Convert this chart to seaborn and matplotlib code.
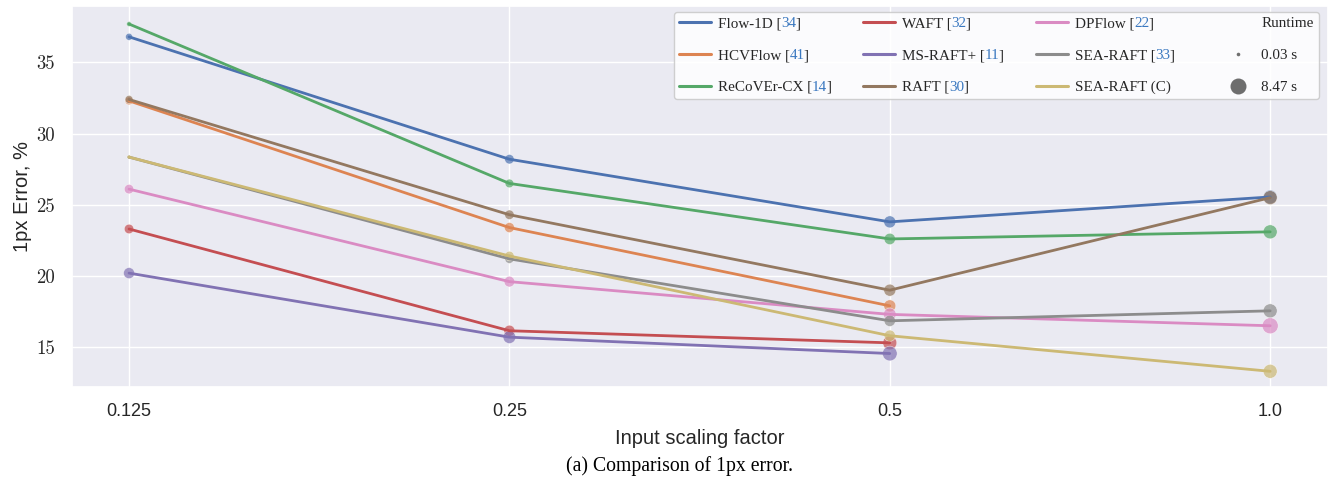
import numpy as np
import pandas as pd
import matplotlib
matplotlib.use("Agg")
import matplotlib.pyplot as plt
from matplotlib.colors import LogNorm
from matplotlib.lines import Line2D
import seaborn as sns

scales = [0.125, 0.25, 0.5, 1.0]
scale_labels = ["0.125", "0.25", "0.5", "1.0"]

methods = ["Flow-1D", "HCVFlow", "ReCoVEr-CX", "WAFT", "MS-RAFT+", "RAFT",
           "DPFlow", "SEA-RAFT", "SEA-RAFT (C)"]
cites = ["34", "41", "14", "32", "11", "30", "22", "33", None]

# 1px error (%) per input scale
flow1d = [36.8, 28.2, 23.8, 25.55]
hcvflow = [32.3, 23.4, 17.9, np.nan]
recover = [37.7, 26.5, 22.6, 23.1]
waft = [23.3, 16.15, 15.3, np.nan]
msraft = [20.2, 15.7, 14.55, np.nan]
raft = [32.4, 24.3, 19.0, 25.5]
dpflow = [26.1, 19.6, 17.3, 16.5]
searaft = [28.35, 21.2, 16.85, 17.55]
searaft_c = [28.35, 21.4, 15.8, 13.3]

# runtime (s)
rt_flow1d = [0.066, 0.17, 0.61, 2.0]
rt_hcvflow = [0.093, 0.22, 0.61, np.nan]
rt_recover = [0.037, 0.12, 0.42, 2.0]
rt_waft = [0.17, 0.36, 2.0, np.nan]
rt_msraft = [0.36, 0.91, 3.3, np.nan]
rt_raft = [0.093, 0.17, 0.61, 2.0]
rt_dpflow = [0.17, 0.30, 0.91, 8.47]
rt_searaft = [0.03, 0.14, 0.42, 2.0]
rt_searaft_c = [0.03, 0.17, 0.42, 2.0]

errors = [flow1d, hcvflow, recover, waft, msraft, raft, dpflow, searaft, searaft_c]
runtimes = [rt_flow1d, rt_hcvflow, rt_recover, rt_waft, rt_msraft, rt_raft,
            rt_dpflow, rt_searaft, rt_searaft_c]

rows = []
for m, err, rt in zip(methods, errors, runtimes):
    for s, e, r in zip(scales, err, rt):
        rows.append({"method": m, "scale": s, "error": e, "runtime": r})
df = pd.DataFrame(rows).dropna()

sns.set_theme(style="darkgrid")
colors = sns.color_palette("deep", 9)
palette = dict(zip(methods, colors))

fig = plt.figure(figsize=(13.28, 4.83), dpi=100)
ax = fig.add_axes([0.0542, 0.1988, 0.9458, 0.7898])

sns.scatterplot(data=df, x="scale", y="error", hue="method", hue_order=methods,
                palette=palette, size="runtime", sizes=(8, 133),
                size_norm=LogNorm(0.03, 8.47), alpha=0.7, edgecolor="white",
                linewidth=0.4, legend=False, ax=ax, zorder=2)
sns.lineplot(data=df, x="scale", y="error", hue="method", hue_order=methods,
             palette=palette, linewidth=2, legend=False, ax=ax, zorder=3)

ax.set_xscale("log", base=2)
ax.set_xticks(scales)
ax.set_xticklabels(scale_labels, family="Liberation Sans", fontsize=13)
ax.xaxis.set_minor_locator(matplotlib.ticker.NullLocator())
ax.set_xlim(2 ** -3.15, 2 ** 0.152)
ax.set_ylim(12.2, 39.0)
ax.set_yticks([15, 20, 25, 30, 35])
ax.set_yticklabels(["15", "20", "25", "30", "35"], family="cmr10", fontsize=13.5)
ax.tick_params(axis="y", pad=6.4)
ax.tick_params(axis="x", pad=5.7)
ax.set_xlabel("Input scaling factor", family="Liberation Sans", fontsize=14.5, labelpad=6)
ax.set_ylabel("1px Error, %", family="Liberation Sans", fontsize=14.5, labelpad=3)

handles = [Line2D([], [], color=palette[m], lw=2.2) for m in methods]
labels = [m + " [" if c else m for m, c in zip(methods, cites)]
handles.append(Line2D([], [], linestyle="none"))
labels.append("Runtime")
for r, ms in [(0.03, 2.6), (8.47, 11.5)]:
    handles.append(Line2D([], [], marker="o", linestyle="none", color="#555555",
                          alpha=0.85, markersize=ms, markeredgewidth=0))
    labels.append(f"{r} s")

fs = 10.9
leg = ax.legend(handles, labels, ncol=4, loc="upper right",
                prop={"family": "Liberation Serif", "size": fs},
                frameon=True, facecolor="white", framealpha=0.85, edgecolor="#c8c8c8",
                labelspacing=1.2, handlelength=2.1, handletextpad=0.5,
                columnspacing=3.35, borderpad=0.35, borderaxespad=0,
                bbox_to_anchor=(1 - 9 / 1256, 1 - 6 / 381))
leg.set_zorder(5)

for txt, c in zip(leg.get_texts()[:9], cites):
    if c is None:
        continue
    t2 = ax.annotate(c, xy=(1, 0), xycoords=txt, va="bottom", ha="left",
                     color="#3a78c0", family="Liberation Serif", fontsize=fs,
                     xytext=(-0.6, 0), textcoords="offset points", zorder=6)
    ax.annotate("]", xy=(1, 0), xycoords=t2, va="bottom", ha="left",
                color="#262626", family="Liberation Serif", fontsize=fs,
                xytext=(-0.5, 0), textcoords="offset points", zorder=6)

fig.text(0.5117, 0.035, "(a) Comparison of 1px error.", ha="center", va="center",
         family="Liberation Serif", fontsize=14.2, color="black")

fig.savefig("out.png", dpi=100)
